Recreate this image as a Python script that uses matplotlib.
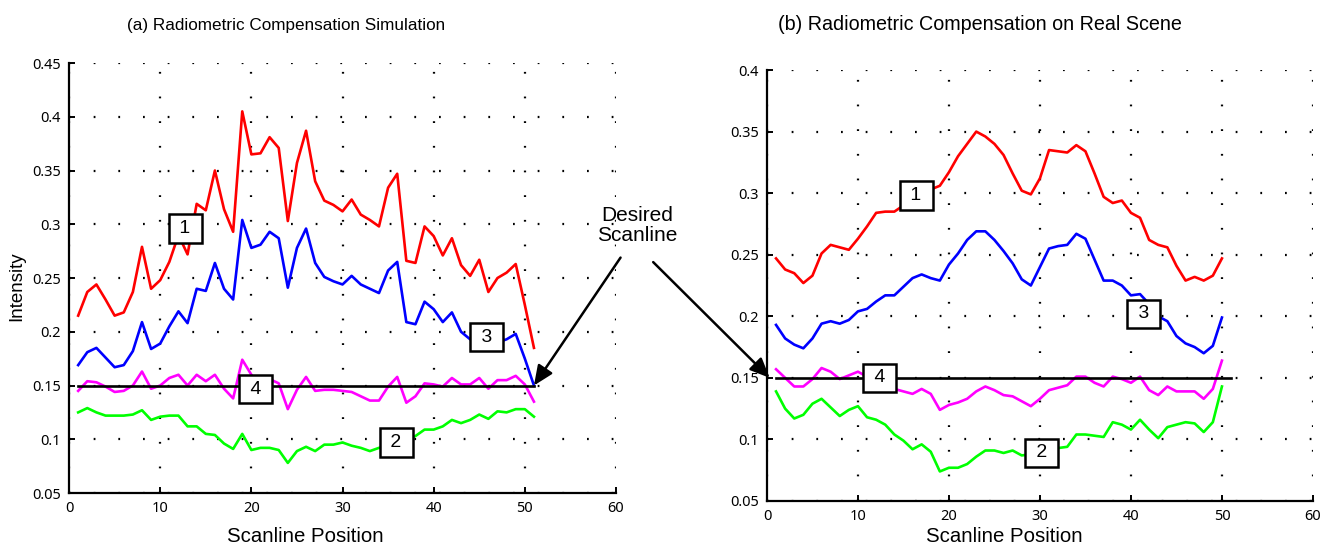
"""Radiometric compensation scanline plots (simulation vs. real scene)."""

import matplotlib
matplotlib.use("Agg")
import matplotlib.pyplot as plt
import numpy as np

# ---- data: (a) simulation, scanline positions 1..51
sim_x = np.arange(1, 52)
sim_red = [0.215, 0.237, 0.244, 0.230, 0.215, 0.218, 0.237, 0.279, 0.240, 0.248,
           0.265, 0.290, 0.272, 0.319, 0.313, 0.350, 0.314, 0.293, 0.405, 0.365,
           0.366, 0.381, 0.371, 0.303, 0.357, 0.387, 0.340, 0.322, 0.318, 0.312,
           0.323, 0.309, 0.304, 0.298, 0.334, 0.347, 0.266, 0.264, 0.298, 0.289,
           0.271, 0.287, 0.262, 0.252, 0.267, 0.237, 0.250, 0.255, 0.263, 0.225,
           0.185]
sim_blue = [0.169, 0.181, 0.185, 0.176, 0.167, 0.169, 0.182, 0.209, 0.184, 0.189,
            0.205, 0.219, 0.208, 0.240, 0.238, 0.264, 0.240, 0.230, 0.304, 0.278,
            0.281, 0.293, 0.287, 0.241, 0.278, 0.296, 0.264, 0.251, 0.247, 0.244,
            0.252, 0.244, 0.240, 0.236, 0.257, 0.265, 0.209, 0.207, 0.228, 0.221,
            0.209, 0.218, 0.200, 0.193, 0.192, 0.188, 0.190, 0.193, 0.198, 0.175,
            0.150]
sim_magenta = [0.145, 0.154, 0.153, 0.149, 0.144, 0.145, 0.150, 0.163, 0.147, 0.150,
               0.157, 0.160, 0.150, 0.160, 0.154, 0.160, 0.147, 0.138, 0.174, 0.160,
               0.150, 0.156, 0.152, 0.128, 0.146, 0.158, 0.145, 0.146, 0.146, 0.145,
               0.144, 0.140, 0.136, 0.136, 0.149, 0.158, 0.134, 0.140, 0.152, 0.151,
               0.149, 0.157, 0.151, 0.151, 0.157, 0.147, 0.155, 0.155, 0.159, 0.151,
               0.135]
sim_green = [0.125, 0.129, 0.125, 0.122, 0.122, 0.122, 0.123, 0.127, 0.118, 0.121,
             0.122, 0.122, 0.112, 0.112, 0.105, 0.104, 0.096, 0.091, 0.105, 0.090,
             0.092, 0.092, 0.090, 0.078, 0.089, 0.093, 0.089, 0.095, 0.095, 0.097,
             0.094, 0.092, 0.089, 0.092, 0.094, 0.096, 0.099, 0.103, 0.109, 0.109,
             0.112, 0.118, 0.115, 0.118, 0.123, 0.119, 0.126, 0.125, 0.128, 0.128,
             0.121]

# ---- data: (b) real scene, scanline positions 1..50
real_x = np.arange(1, 51)
real_red = [0.247, 0.238, 0.235, 0.227, 0.233, 0.251, 0.258, 0.256, 0.254, 0.263,
            0.273, 0.284, 0.285, 0.285, 0.290, 0.296, 0.300, 0.303, 0.306, 0.317,
            0.330, 0.340, 0.350, 0.346, 0.340, 0.331, 0.316, 0.302, 0.299, 0.312,
            0.335, 0.334, 0.333, 0.339, 0.334, 0.316, 0.297, 0.292, 0.294, 0.284,
            0.280, 0.262, 0.258, 0.256, 0.241, 0.229, 0.232, 0.229, 0.233, 0.247]
real_blue = [0.193, 0.182, 0.177, 0.174, 0.182, 0.194, 0.196, 0.194, 0.197, 0.204,
             0.206, 0.212, 0.217, 0.217, 0.224, 0.231, 0.234, 0.231, 0.229, 0.242,
             0.251, 0.262, 0.269, 0.269, 0.262, 0.253, 0.243, 0.230, 0.225, 0.240,
             0.255, 0.257, 0.258, 0.267, 0.263, 0.246, 0.229, 0.229, 0.225, 0.217,
             0.218, 0.210, 0.200, 0.196, 0.184, 0.178, 0.175, 0.170, 0.176, 0.199]
real_magenta = [0.157, 0.150, 0.143, 0.143, 0.149, 0.158, 0.155, 0.149, 0.152, 0.155,
                0.151, 0.147, 0.144, 0.141, 0.139, 0.137, 0.141, 0.137, 0.124, 0.128,
                0.130, 0.133, 0.139, 0.143, 0.140, 0.136, 0.135, 0.131, 0.127, 0.133,
                0.140, 0.142, 0.144, 0.151, 0.151, 0.146, 0.143, 0.151, 0.149, 0.146,
                0.151, 0.140, 0.136, 0.143, 0.139, 0.139, 0.139, 0.133, 0.141, 0.164]
real_green = [0.139, 0.125, 0.117, 0.120, 0.129, 0.133, 0.126, 0.119, 0.124, 0.127,
              0.118, 0.116, 0.112, 0.104, 0.099, 0.092, 0.096, 0.090, 0.074, 0.077,
              0.077, 0.080, 0.086, 0.091, 0.091, 0.089, 0.091, 0.087, 0.088, 0.090,
              0.092, 0.093, 0.094, 0.104, 0.104, 0.103, 0.102, 0.114, 0.112, 0.108,
              0.116, 0.108, 0.101, 0.110, 0.112, 0.114, 0.113, 0.106, 0.114, 0.143]

# desired scanline (flat target intensity)
desired_x = [1, 51]
desired_y = [0.15, 0.15]

# numbered curve labels: (text, x, y)
sim_tags = [("1", 12.75, 0.296), ("2", 35.9, 0.097), ("3", 45.8, 0.195), ("4", 20.5, 0.1465)]
real_tags = [("1", 16.4, 0.298), ("2", 30.2, 0.089), ("3", 41.4, 0.202), ("4", 12.4, 0.150)]

sim_yticks = [0.05, 0.1, 0.15, 0.2, 0.25, 0.3, 0.35, 0.4, 0.45]
real_yticks = [0.05, 0.1, 0.15, 0.2, 0.25, 0.3, 0.35, 0.4]
xticks = [0, 10, 20, 30, 40, 50, 60]

LABEL_FONT = ["Liberation Sans", "DejaVu Sans"]
TICK_FONT = ["Noto Sans", "DejaVu Sans"]


def setup_axes(ax, yticks):
    ax.set_xlim(0, 60)
    ax.set_ylim(yticks[0], yticks[-1])
    ax.set_xticks(xticks)
    ax.set_yticks(yticks)
    ax.set_xticklabels([f"{t:g}" for t in xticks], family=TICK_FONT, fontsize=10.5)
    ax.set_yticklabels([f"{t:g}" for t in yticks], family=TICK_FONT, fontsize=10.5)
    for side in ("top", "right"):
        ax.spines[side].set_visible(False)
    for side in ("left", "bottom"):
        ax.spines[side].set_linewidth(1.6)
    ax.tick_params(direction="in", length=4, width=1.4, pad=6)
    # MATLAB-style sparse dotted grid
    ax.grid(True, color="black", linestyle=(0, (0.8, 10.3)), linewidth=1.6)


def draw_curves(ax, x, red, blue, magenta, green, tags):
    lw = 1.9
    ax.plot(x, red, color="#ff0000", linewidth=lw)
    ax.plot(x, blue, color="#0000ff", linewidth=lw)
    ax.plot(x, magenta, color="#ff00ff", linewidth=lw)
    ax.plot(x, green, color="#00ff00", linewidth=lw)
    ax.plot(desired_x, desired_y, color="black", linewidth=lw)
    for txt, tx, ty in tags:
        ax.text(tx, ty, f" {txt} ", ha="center", va="center", fontsize=14,
                family=LABEL_FONT, zorder=5,
                bbox=dict(boxstyle="square,pad=0.29", fc="white", ec="black", lw=1.8))


def main():
    fig = plt.figure(figsize=(13.23, 5.47), dpi=100)

    ax1 = fig.add_axes([0.0522, 0.0987, 0.4134, 0.7861])
    ax2 = fig.add_axes([0.5797, 0.0841, 0.4127, 0.7879])

    setup_axes(ax1, sim_yticks)
    setup_axes(ax2, real_yticks)
    draw_curves(ax1, sim_x, sim_red, sim_blue, sim_magenta, sim_green, sim_tags)
    draw_curves(ax2, real_x, real_red, real_blue, real_magenta, real_green, real_tags)

    # titles / axis labels placed to match the original layout
    fig.text(0.2165, 0.945, "(a) Radiometric Compensation Simulation",
             ha="center", va="baseline", fontsize=12.3, family=LABEL_FONT)
    fig.text(0.7405, 0.945, "(b) Radiometric Compensation on Real Scene",
             ha="center", va="baseline", fontsize=14.2, family=LABEL_FONT)
    fig.text(0.2305, 1 - 542 / 547, "Scanline Position",
             ha="center", va="baseline", fontsize=14.7, family=LABEL_FONT)
    fig.text(0.7588, 0.002, "Scanline Position",
             ha="center", va="bottom", fontsize=14.7, family=LABEL_FONT)
    fig.text(0.0128, 1 - 286 / 547, "Intensity", rotation=90,
             ha="center", va="center", fontsize=13.5, family=LABEL_FONT)

    # "Desired Scanline" callout with arrows into both panels
    fig.text(0.482, 0.588, "Desired\nScanline", ha="center", va="center",
             fontsize=15, family=LABEL_FONT, linespacing=1.05)
    arrow = dict(arrowstyle="-|>,head_length=0.8,head_width=0.35", color="black",
                 lw=1.8, mutation_scale=15, shrinkA=0, shrinkB=0)
    ax1.annotate("", xy=(desired_x[-1], desired_y[-1]), xytext=(60.5, 0.269),
                 arrowprops=arrow, annotation_clip=False)
    ax2.annotate("", xy=(0.3, 0.15), xytext=(-12.5, 0.244),
                 arrowprops=arrow, annotation_clip=False)

    fig.savefig("out.png", dpi=100)


if __name__ == "__main__":
    main()
